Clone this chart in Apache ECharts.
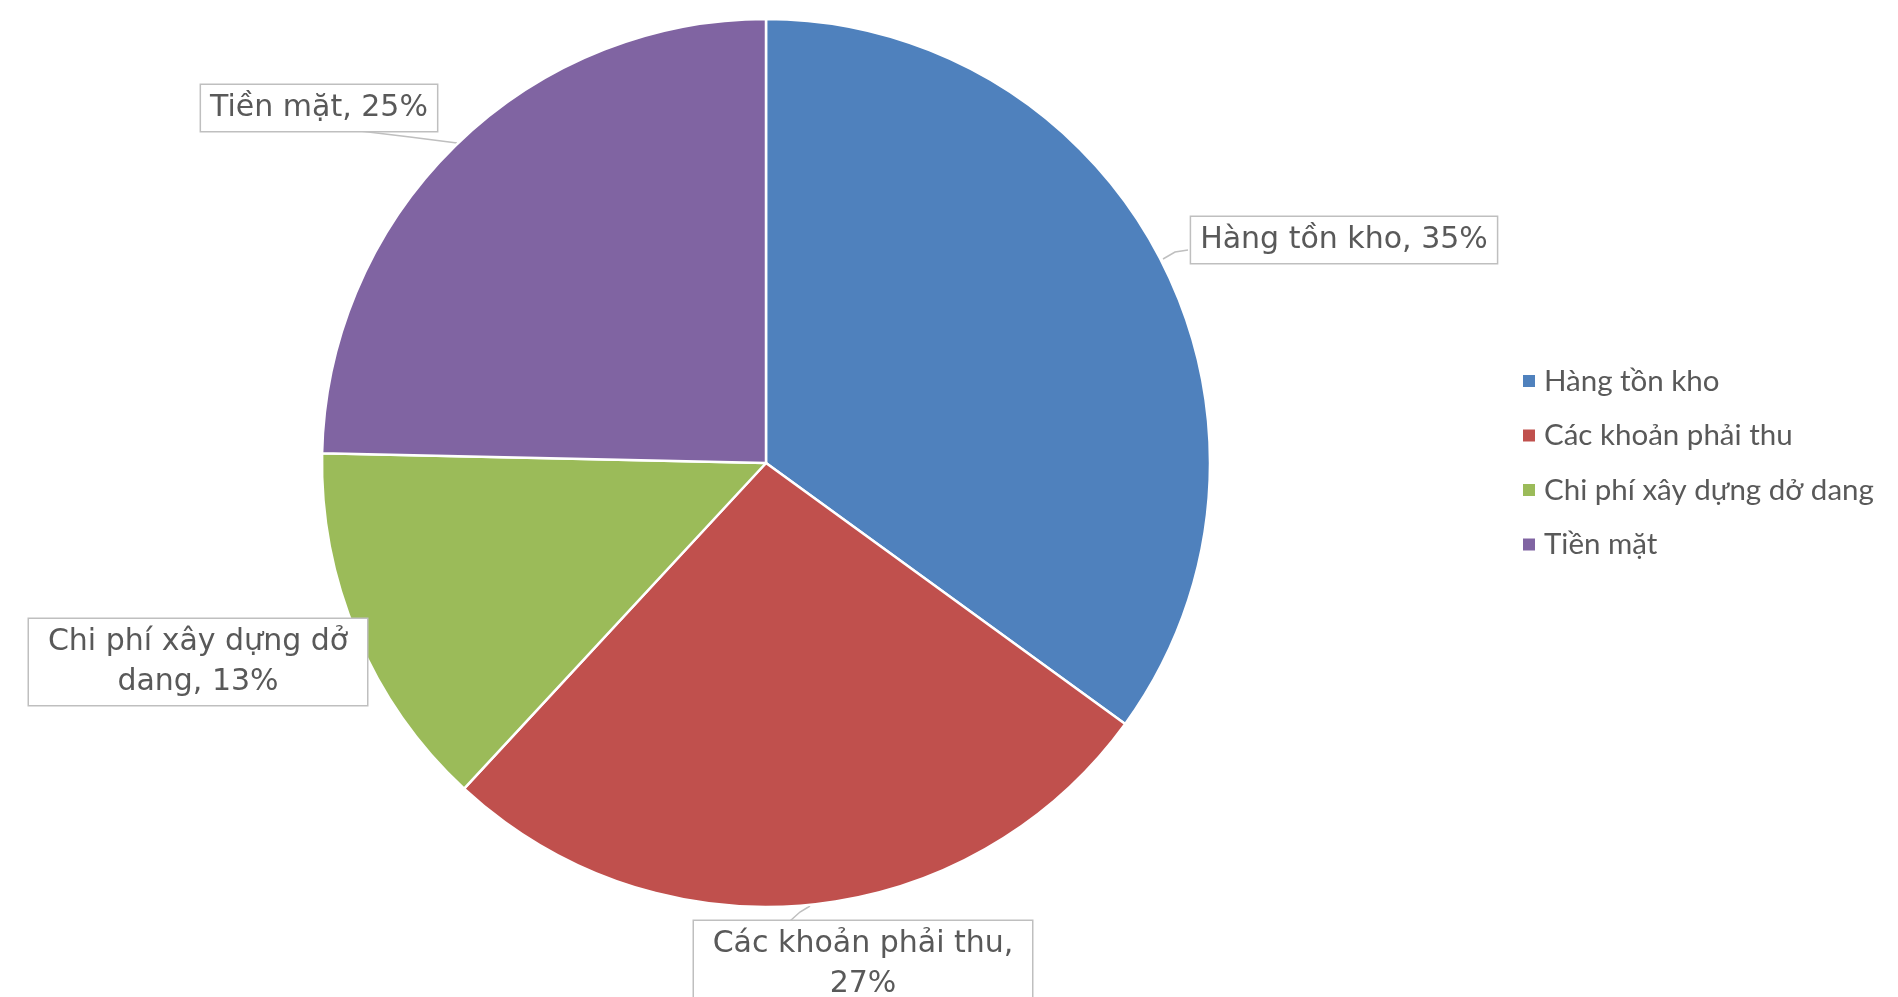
<!DOCTYPE html>
<html>
<head>
<meta charset="utf-8">
<script src="https://cdn.jsdelivr.net/npm/echarts@6/dist/echarts.min.js"></script>
<style>
  html, body {margin: 0; padding: 0; background: #fff;}
  #chart {width: 1898px; height: 997px;}
</style>
</head>
<body>
<div id="chart"></div>
<script>
const categories = ['Hàng tồn kho', 'Các khoản phải thu', 'Chi phí xây dựng dở dang', 'Tiền mặt'];
const values = [35.0, 26.9, 13.45, 24.65];
const colors = ['#4F81BD', '#C0504D', '#9BBB59', '#8064A2'];

// vị trí nhãn (tâm hộp) và điểm chỉ dẫn, theo thứ tự categories
const labelPos = [[1344, 240], [863, 964], [198, 662], [319, 108]];
const labelWidth = [null, 320, 320, null];
const linePts = [
  [[1163, 259], [1175, 252], [1188, 250]],
  [[810, 906], [800, 912], [790, 921]],
  null,
  [[457, 143], [410, 137], [360, 131]]
];

function wrap(text, maxChars) {
  let words = text.split(' ');
  let lines = [];
  let cur = '';
  for (let w of words) {
    if (cur && (cur + ' ' + w).length > maxChars) {
      lines.push(cur);
      cur = w;
    } else {
      cur = cur ? cur + ' ' + w : w;
    }
  }
  lines.push(cur);
  return lines.join('\n');
}

let chart = echarts.init(document.getElementById('chart'));

let data = categories.map((name, i) => {
  let d = {name: name, value: values[i]};
  if (labelWidth[i]) {
    d.label = {width: labelWidth[i]};
  }
  return d;
});
let total = values.reduce((a, b) => a + b, 0);

let option = {
  color: colors,
  animation: false,
  legend: {
    orient: 'vertical',
    left: 1521,
    top: 365,
    padding: 0,
    icon: 'rect',
    itemWidth: 14,
    itemHeight: 14,
    itemGap: 22.5,
    textStyle: {
      fontFamily: 'Lato',
      fontSize: 29.5,
      lineHeight: 32,
      color: '#595959',
      padding: [0, 0, 0, 3]
    },
    data: categories
  },
  series: [
    {
      type: 'pie',
      center: [766, 463],
      radius: 444,
      startAngle: 90,
      clockwise: true,
      data: data,
      itemStyle: {
        borderColor: '#fff',
        borderWidth: 2.5
      },
      label: {
        show: true,
        position: 'outside',
        overflow: 'none',
        formatter: (p) => wrap(p.name + ', ' + Math.round(p.value / total * 100) + '%', 20),
        fontFamily: 'DejaVu Sans',
        fontSize: 30,
        lineHeight: 40,
        color: '#595959',
        align: 'center',
        backgroundColor: '#fff',
        borderColor: '#BFBFBF',
        borderWidth: 1.5,
        padding: [3, 9, 3, 9]
      },
      labelLine: {
        show: true,
        lineStyle: {color: '#BFBFBF', width: 1.5}
      },
      labelLayout: (params) => {
        let i = params.dataIndex;
        let res = {
          x: labelPos[i][0],
          y: labelPos[i][1],
          align: 'center',
          verticalAlign: 'middle'
        };
        if (linePts[i]) {
          res.labelLinePoints = linePts[i];
        } else {
          res.labelLinePoints = [[0, 0], [0, 0], [0, 0]];
        }
        return res;
      }
    }
  ]
};

chart.setOption(option);
</script>
</body>
</html>
